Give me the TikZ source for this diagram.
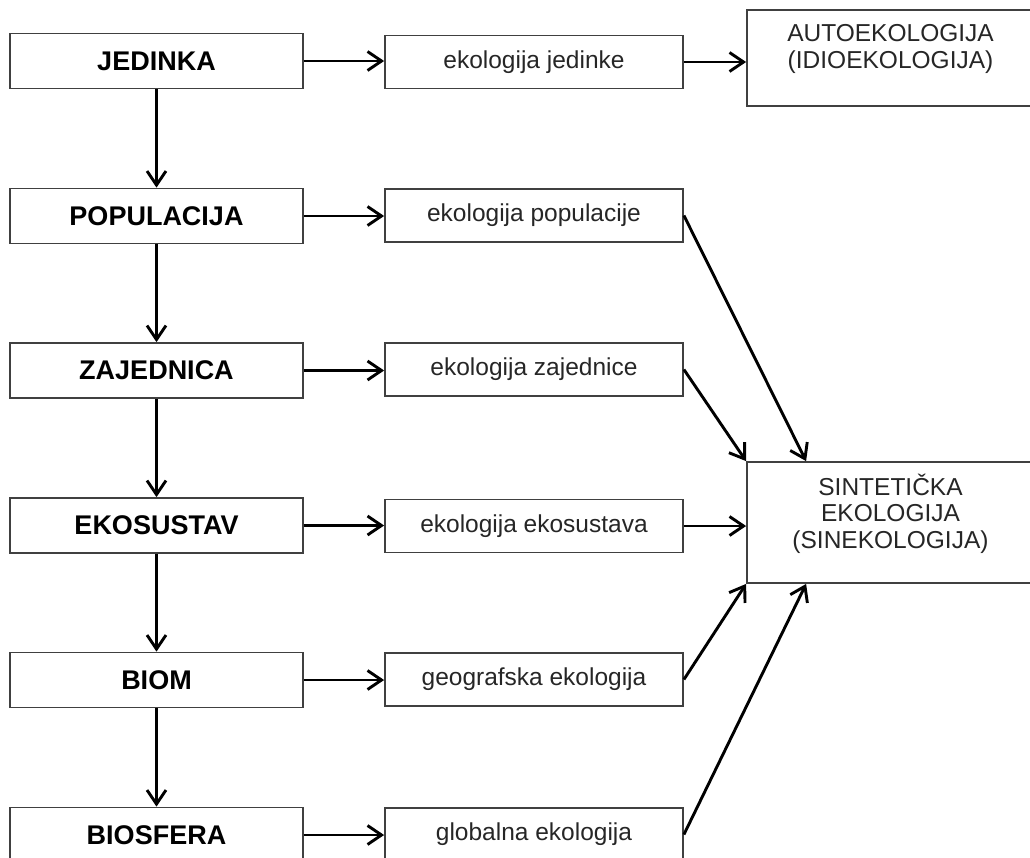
\documentclass[tikz,border=0pt]{standalone}
\usepackage{fontspec}
\setmainfont{Liberation Sans}
\usetikzlibrary{arrows.meta}

\begin{document}
\begin{tikzpicture}[x=1pt, y=-1pt,
    levelbox/.style={draw=black!75, line width=1.8pt, minimum width=293pt, minimum height=55pt, inner sep=0pt, font=\fontsize{27}{32}\selectfont\bfseries},
    fieldbox/.style={draw=black!75, line width=1.8pt, minimum width=298pt, minimum height=53pt, inner sep=0pt, text=black!85, font=\fontsize{24.5}{29}\selectfont},
    bigbox/.style={draw=black!75, line width=1.8pt, minimum width=287pt, inner sep=0pt, align=center, text=black!85, font=\fontsize{24.5}{26.5}\selectfont},
    arr/.style={-{Straight Barb[length=14pt,width=19pt]}, line width=2.9pt}]

    % Page frame (the last row is cut by the lower edge)
    \clip (0,0) rectangle (1030,857);

    % Levels of organisation
    \node[levelbox] (jedinka) at (156.5, 61) {JEDINKA};
    \node[levelbox] (populacija) at (156.5, 216) {POPULACIJA};
    \node[levelbox] (zajednica) at (156.5, 370.5) {ZAJEDNICA};
    \node[levelbox] (ekosustav) at (156.5, 525.5) {EKOSUSTAV};
    \node[levelbox] (biom) at (156.5, 680) {BIOM};
    \node[levelbox] (biosfera) at (156.5, 835) {BIOSFERA};

    % Matching fields of ecology
    \node[fieldbox] (ekoJedinke) at (534, 62) {ekologija jedinke};
    \node[fieldbox] (ekoPopulacije) at (534, 215.5) {ekologija populacije};
    \node[fieldbox] (ekoZajednice) at (534, 369.5) {ekologija zajednice};
    \node[fieldbox] (ekoEkosustava) at (534, 526) {ekologija ekosustava};
    \node[fieldbox] (geoEkologija) at (534, 679.5) {geografska ekologija};
    \node[fieldbox] (globEkologija) at (534, 834.5) {globalna ekologija};

    % Two main branches
    \node[bigbox, text height=58pt, text depth=38pt] (autoeko) at (890.5, 58) {AUTOEKOLOGIJA\\(IDIOEKOLOGIJA)};
    \node[bigbox, text height=86pt, text depth=35pt] (sineko) at (890.5, 522.5) {SINTETIČKA\\EKOLOGIJA\\(SINEKOLOGIJA)};

    % Chain of levels
    \draw[arr] (jedinka.south) -- (populacija.north);
    \draw[arr] (populacija.south) -- (zajednica.north);
    \draw[arr] (zajednica.south) -- (ekosustav.north);
    \draw[arr] (ekosustav.south) -- (biom.north);
    \draw[arr] (biom.south) -- (biosfera.north);

    % Level -> field
    \draw[arr] (jedinka.east) -- (jedinka.east -| ekoJedinke.west);
    \draw[arr] (populacija.east) -- (populacija.east -| ekoPopulacije.west);
    \draw[arr] (zajednica.east) -- (zajednica.east -| ekoZajednice.west);
    \draw[arr] (ekosustav.east) -- (ekosustav.east -| ekoEkosustava.west);
    \draw[arr] (biom.east) -- (biom.east -| geoEkologija.west);
    \draw[arr] (biosfera.east) -- (biosfera.east -| globEkologija.west);

    % Field -> branch
    \draw[arr] (ekoJedinke.east) -- (ekoJedinke.east -| autoeko.west);
    \draw[arr] (ekoPopulacije.east) -- ([xshift=60pt]sineko.north west);
    \draw[arr] (ekoZajednice.east) -- (sineko.north west);
    \draw[arr] (ekoEkosustava.east) -- (ekoEkosustava.east -| sineko.west);
    \draw[arr] (geoEkologija.east) -- (sineko.south west);
    \draw[arr] (globEkologija.east) -- ([xshift=60pt]sineko.south west);

\end{tikzpicture}
\end{document}
